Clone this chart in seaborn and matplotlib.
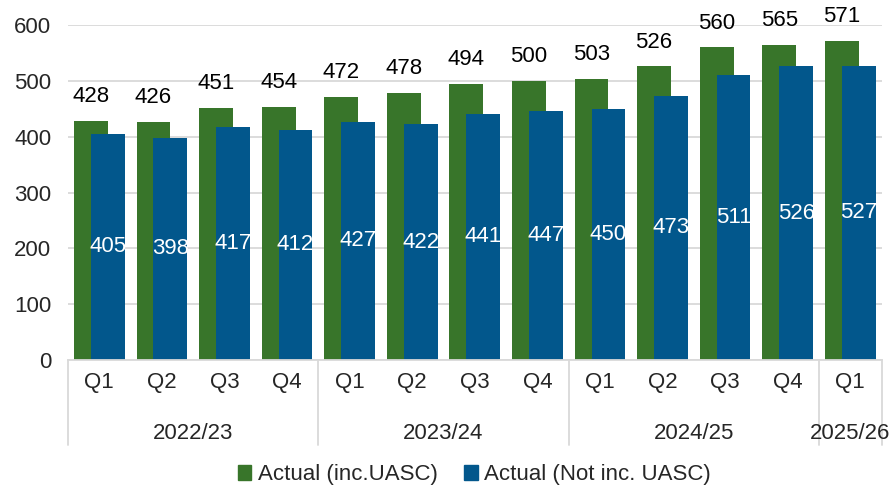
import numpy as np
import seaborn as sns
import matplotlib.pyplot as plt
import matplotlib.transforms as mtransforms
from matplotlib.patches import Patch

# quarterly values
quarters = ['Q1', 'Q2', 'Q3', 'Q4', 'Q1', 'Q2', 'Q3', 'Q4', 'Q1', 'Q2', 'Q3', 'Q4', 'Q1']
years = ['2022/23', '2023/24', '2024/25', '2025/26']
year_sizes = [4, 4, 4, 1]
inc_uasc = [428, 426, 451, 454, 472, 478, 494, 500, 503, 526, 560, 565, 571]
not_inc_uasc = [405, 398, 417, 412, 427, 422, 441, 447, 450, 473, 511, 526, 527]

green = '#38752A'
blue = '#02578C'
grey = '#D9D9D9'
fs = 16

sns.set_style('white')
plt.rcParams['font.family'] = ['Liberation Sans', 'DejaVu Sans']
plt.rcParams['font.size'] = fs

fig, ax = plt.subplots(figsize=(8.95, 4.93), dpi=100)
fig.subplots_adjust(left=0.076, right=0.985, bottom=0.27, top=0.949)

pos = np.arange(len(quarters))
sns.barplot(x=pos - 0.135, y=inc_uasc, native_scale=True, width=0.54,
            color=green, saturation=1, linewidth=0, ax=ax)
sns.barplot(x=pos + 0.135, y=not_inc_uasc, native_scale=True, width=0.54,
            color=blue, saturation=1, linewidth=0, ax=ax)

ax.bar_label(ax.containers[0], labels=[str(v) for v in inc_uasc],
             padding=10, fontsize=fs, color='black')
ax.bar_label(ax.containers[1], labels=[str(v) for v in not_inc_uasc],
             label_type='center', fontsize=fs, color='white')

ax.set_xlim(-0.5, len(quarters) - 0.5)
ax.set_ylim(0, 600)
ax.set_yticks(range(0, 601, 100))
ax.yaxis.grid(True, color=grey, linewidth=1.3)
ax.set_axisbelow(True)
for s in ['left', 'right', 'top']:
    ax.spines[s].set_visible(False)
ax.spines['bottom'].set_color(grey)
ax.spines['bottom'].set_linewidth(1.3)
ax.tick_params(axis='y', length=0, pad=12)
ax.tick_params(axis='x', length=0, pad=9)
ax.set_xticks(pos)
ax.set_xticklabels(quarters)

# second level of category labels with separators
trans = mtransforms.blended_transform_factory(ax.transData, ax.transAxes)
start = 0
edges = [-0.5]
for yr, n in zip(years, year_sizes):
    ax.text(start + (n - 1) / 2, -0.22, yr, transform=trans,
            ha='center', va='center', fontsize=fs)
    start += n
    edges.append(start - 0.5)
for e in edges:
    ax.plot([e, e], [0, -0.255], transform=trans, color=grey,
            linewidth=1.3, clip_on=False)

handles = [Patch(color=green, label='Actual (inc.UASC)'),
           Patch(color=blue, label='Actual (Not inc. UASC)')]
fig.legend(handles=handles, loc='lower center', ncol=2, frameon=False,
           bbox_to_anchor=(0.53, -0.025), handlelength=0.6, handleheight=0.6,
           handletextpad=0.3, columnspacing=1.2, fontsize=fs)

fig.savefig('out.png', dpi=100)
